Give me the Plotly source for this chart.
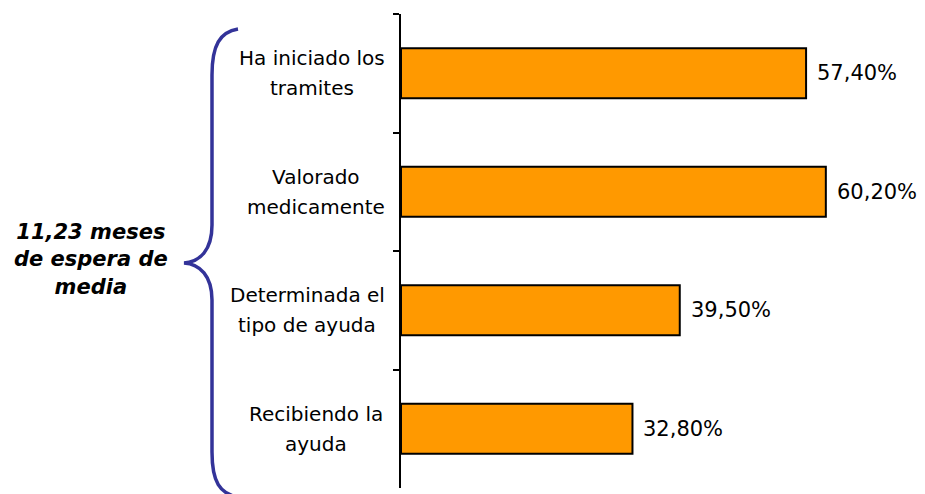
import plotly.graph_objects as go

categories = ["Ha iniciado los<br>tramites", "Valorado<br>medicamente",
              "Determinada el<br>tipo de ayuda", "Recibiendo la<br>ayuda"]
values = [57.4, 60.2, 39.5, 32.8]
side_note = "11,23 meses<br>de espera de<br>media"

W, H = 925, 494
OFF = 8  # page body margin
ML, MT = 401 - OFF, 14 - OFF
PW, PH = 494, 474
MR = W - ML - PW
MB = H - MT - PH

def px(x):
    return (x - OFF - ML) / PW

def py(y):
    return (H - MB - (y - OFF)) / PH

FONT = "DejaVu Sans"
fig = go.Figure(go.Bar(
    x=values, y=list(range(len(categories))), orientation="h",
    marker=dict(color="#FF9900", line=dict(color="black", width=2)),
    hoverinfo="skip",
))

annotations = []
label_centers = [312, 316, 307, 316]
for i, (cat, v) in enumerate(zip(categories, values)):
    lines = cat.split("<br>")
    for j, ln in enumerate(lines):
        annotations.append(dict(
            x=px(label_centers[i]), xref="paper", y=i, yref="y",
            text=ln, showarrow=False, xanchor="center", yanchor="middle",
            yshift=15 - 30 * j, font=dict(family=FONT, size=20, color="black")))
    annotations.append(dict(
        x=v, xref="x", y=i, yref="y",
        text=f"{v:.2f}".replace(".", ",") + "%", showarrow=False,
        xanchor="left", yanchor="middle", xshift=9,
        font=dict(family=FONT, size=21, color="black")))

annotations.append(dict(
    x=px(91), xref="paper", y=py(259), yref="paper", text="<b><i>" + side_note + "</i></b>",
    showarrow=False, xanchor="center", yanchor="middle", align="center",
    font=dict(family=FONT, size=21, color="black")))

def P(x, y):
    return f"{px(x):.5f},{py(y):.5f}"

brace = (f"M {P(238,29)} C {P(220,32)} {P(212,45)} {P(212,75)} L {P(212,225)} "
         f"C {P(212,250)} {P(200,262)} {P(184,263)} C {P(200,264)} {P(212,276)} {P(212,300)} "
         f"L {P(212,452)} C {P(212,482)} {P(220,494)} {P(238,497)}")

fig.update_layout(
    width=W, height=H, margin=dict(l=ML, r=MR, t=MT, b=MB),
    paper_bgcolor="white", plot_bgcolor="white",
    bargap=0.58, showlegend=False,
    xaxis=dict(visible=False, range=[0, 70]),
    yaxis=dict(type="category", range=[3.5, -0.5], showticklabels=False,
               showline=True, linecolor="black", linewidth=2,
               ticks="outside", ticklen=6, tickwidth=2, tickcolor="black",
               tickson="boundaries", showgrid=False, zeroline=False),
    annotations=annotations,
    shapes=[dict(type="path", xref="paper", yref="paper", path=brace,
                 line=dict(color="#333399", width=3.5))],
)

fig.write_html("out.html")
